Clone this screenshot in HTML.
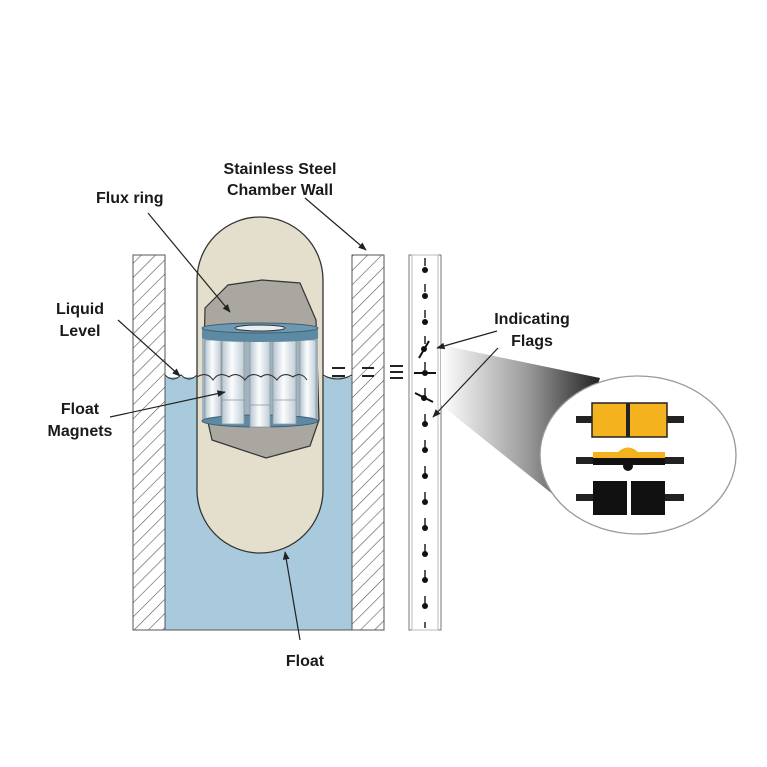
<!DOCTYPE html>
<html><head><style>
html,body{margin:0;padding:0;background:#fff;width:767px;height:767px;overflow:hidden}
text{font-family:"Liberation Sans",Arial,sans-serif;font-weight:bold;font-size:16px;fill:#1a1a1a}
</style></head><body>
<svg width="767" height="767" viewBox="0 0 767 767" xmlns="http://www.w3.org/2000/svg">
<defs>
<pattern id="h" width="10" height="10" patternUnits="userSpaceOnUse" patternTransform="rotate(45)">
<rect width="10" height="10" fill="#fff"/><line x1="0" y1="0" x2="0" y2="10" stroke="#555" stroke-width="1.2"/>
</pattern>
<linearGradient id="cyl" x1="0" x2="1" y1="0" y2="0">
<stop offset="0" stop-color="#b7c5cf"/><stop offset="0.45" stop-color="#fbfdfe"/><stop offset="1" stop-color="#c0ccd5"/>
</linearGradient>
<linearGradient id="cone" x1="0" x2="1" y1="0" y2="0">
<stop offset="0" stop-color="#fff"/><stop offset="0.55" stop-color="#999"/><stop offset="1" stop-color="#222"/>
</linearGradient>
<marker id="a" viewBox="0 0 10 10" refX="9" refY="5" markerWidth="7" markerHeight="7" orient="auto"><path d="M0,1 L10,5 L0,9z" fill="#222"/></marker>
</defs>
<rect x="165" y="377" width="187" height="253" fill="#a9c9dc"/>
<rect x="133" y="255" width="32" height="375" fill="url(#h)" stroke="#555"/>
<rect x="352" y="255" width="32" height="375" fill="url(#h)" stroke="#555"/>
<line x1="165" y1="630" x2="352" y2="630" stroke="#555"/>
<rect x="409" y="255" width="32" height="375" fill="#fff" stroke="#777"/>
<rect x="412" y="255" width="26" height="375" fill="none" stroke="#bbb"/>
<line x1="425" y1="258" x2="425" y2="628" stroke="#222" stroke-width="1.5" stroke-dasharray="8 18"/>
<g fill="#111">
<circle cx="425" cy="270" r="3"/><circle cx="425" cy="296" r="3"/><circle cx="425" cy="322" r="3"/>
<circle cx="425" cy="424" r="3"/><circle cx="425" cy="450" r="3"/><circle cx="425" cy="476" r="3"/><circle cx="425" cy="502" r="3"/>
<circle cx="425" cy="528" r="3"/><circle cx="425" cy="554" r="3"/><circle cx="425" cy="580" r="3"/><circle cx="425" cy="606" r="3"/>
<circle cx="424" cy="349" r="3"/><circle cx="425" cy="373" r="3"/><circle cx="424" cy="398" r="3"/>
</g>
<g stroke="#111" stroke-width="2">
<line x1="419" y1="358" x2="429" y2="341"/><line x1="414" y1="373" x2="436" y2="373"/><line x1="415" y1="393" x2="433" y2="402"/>
</g>
<path d="M197,280 A63,63 0 0 1 323,280 L323,490 A63,63 0 0 1 197,490 Z" fill="#e3dfcc" stroke="#333" stroke-width="1.3"/>
<path d="M205,308 L228,285 L262,280 L300,283 L316,320 L319,420 L310,446 L266,458 L212,440 L203,400 Z" fill="#a9a79f" stroke="#333" stroke-width="1.2"/>
<rect x="202" y="334" width="116" height="86" fill="#a3b3be"/>
<g stroke="#8a9ba7" stroke-width="0.8">
<rect x="205" y="340" width="16" height="80" fill="url(#cyl)"/>
<rect x="222" y="340" width="22" height="85" fill="url(#cyl)"/>
<rect x="250" y="340" width="20" height="85" fill="url(#cyl)"/>
<rect x="273" y="340" width="23" height="85" fill="url(#cyl)"/>
<rect x="300" y="340" width="16" height="80" fill="url(#cyl)"/>
</g>
<ellipse cx="260" cy="421" rx="58" ry="6" fill="#5d8aa3" stroke="#3d6078"/>
<g stroke="#8a9ba7" stroke-width="0.8"><rect x="222" y="400" width="22" height="24" fill="url(#cyl)"/><rect x="250" y="405" width="20" height="22" fill="url(#cyl)"/><rect x="273" y="400" width="23" height="24" fill="url(#cyl)"/></g>
<rect x="202" y="328" width="116" height="10" fill="#5d8aa3"/>
<ellipse cx="260" cy="338" rx="58" ry="4" fill="#5d8aa3"/>
<ellipse cx="260" cy="328" rx="58" ry="5" fill="#6e98af" stroke="#3d6078"/>
<ellipse cx="260" cy="328" rx="25" ry="3" fill="#e8eef2" stroke="#333"/>
<path d="M165,375 q8,8 16,0 q8,8 16,0 M197,377 q10,-6 16,3 q6,-9 16,-3 q8,-6 16,3 q6,-9 16,-3 q8,-6 16,3 q6,-9 16,-3 q8,-6 14,3 M323,375 q14,8 29,0" fill="none" stroke="#333" stroke-width="1.1"/>
<g stroke="#222" stroke-width="2"><line x1="332" y1="368" x2="345" y2="368"/><line x1="332" y1="376" x2="345" y2="376"/><line x1="362" y1="368" x2="374" y2="368"/><line x1="362" y1="376" x2="374" y2="376"/><line x1="390" y1="366" x2="403" y2="366"/><line x1="390" y1="372" x2="403" y2="372"/><line x1="390" y1="378" x2="403" y2="378"/></g>
<path d="M441,345 L600,378 L560,500 L441,405 Z" fill="url(#cone)"/>
<ellipse cx="638" cy="455" rx="98" ry="79" fill="#fff" stroke="#999" stroke-width="1.3"/>
<g>
<rect x="576" y="416" width="108" height="7" fill="#222"/>
<rect x="592" y="403" width="75" height="34" fill="#f4b21f" stroke="#222" stroke-width="1.5"/>
<rect x="626" y="403" width="4" height="34" fill="#222"/>
<rect x="576" y="457" width="108" height="7" fill="#222"/>
<rect x="593" y="452" width="72" height="13" fill="#111"/>
<rect x="593" y="452" width="72" height="6" fill="#f4b21f"/>
<path d="M618,452 q10,-9 20,0z" fill="#f4b21f"/>
<circle cx="628" cy="466" r="5" fill="#111"/>
<rect x="576" y="494" width="108" height="7" fill="#222"/>
<rect x="593" y="481" width="72" height="34" fill="#111"/>
<rect x="627" y="481" width="4" height="34" fill="#fff"/>
</g>
<g stroke="#222" stroke-width="1.2" fill="none" marker-end="url(#a)">
<line x1="305" y1="198" x2="366" y2="250"/>
<line x1="148" y1="213" x2="230" y2="312"/>
<line x1="118" y1="320" x2="180" y2="376"/>
<line x1="110" y1="417" x2="225" y2="392"/>
<line x1="497" y1="331" x2="437" y2="348"/>
<line x1="498" y1="348" x2="433" y2="417"/>
<line x1="300" y1="640" x2="285" y2="552"/>
</g>
<text x="280" y="174" text-anchor="middle">Stainless Steel</text>
<text x="280" y="195" text-anchor="middle">Chamber Wall</text>
<text x="96" y="203">Flux ring</text>
<text x="80" y="314" text-anchor="middle">Liquid</text>
<text x="80" y="336" text-anchor="middle">Level</text>
<text x="80" y="414" text-anchor="middle">Float</text>
<text x="80" y="436" text-anchor="middle">Magnets</text>
<text x="532" y="324" text-anchor="middle">Indicating</text>
<text x="532" y="346" text-anchor="middle">Flags</text>
<text x="305" y="666" text-anchor="middle">Float</text>
</svg>
</body></html>
